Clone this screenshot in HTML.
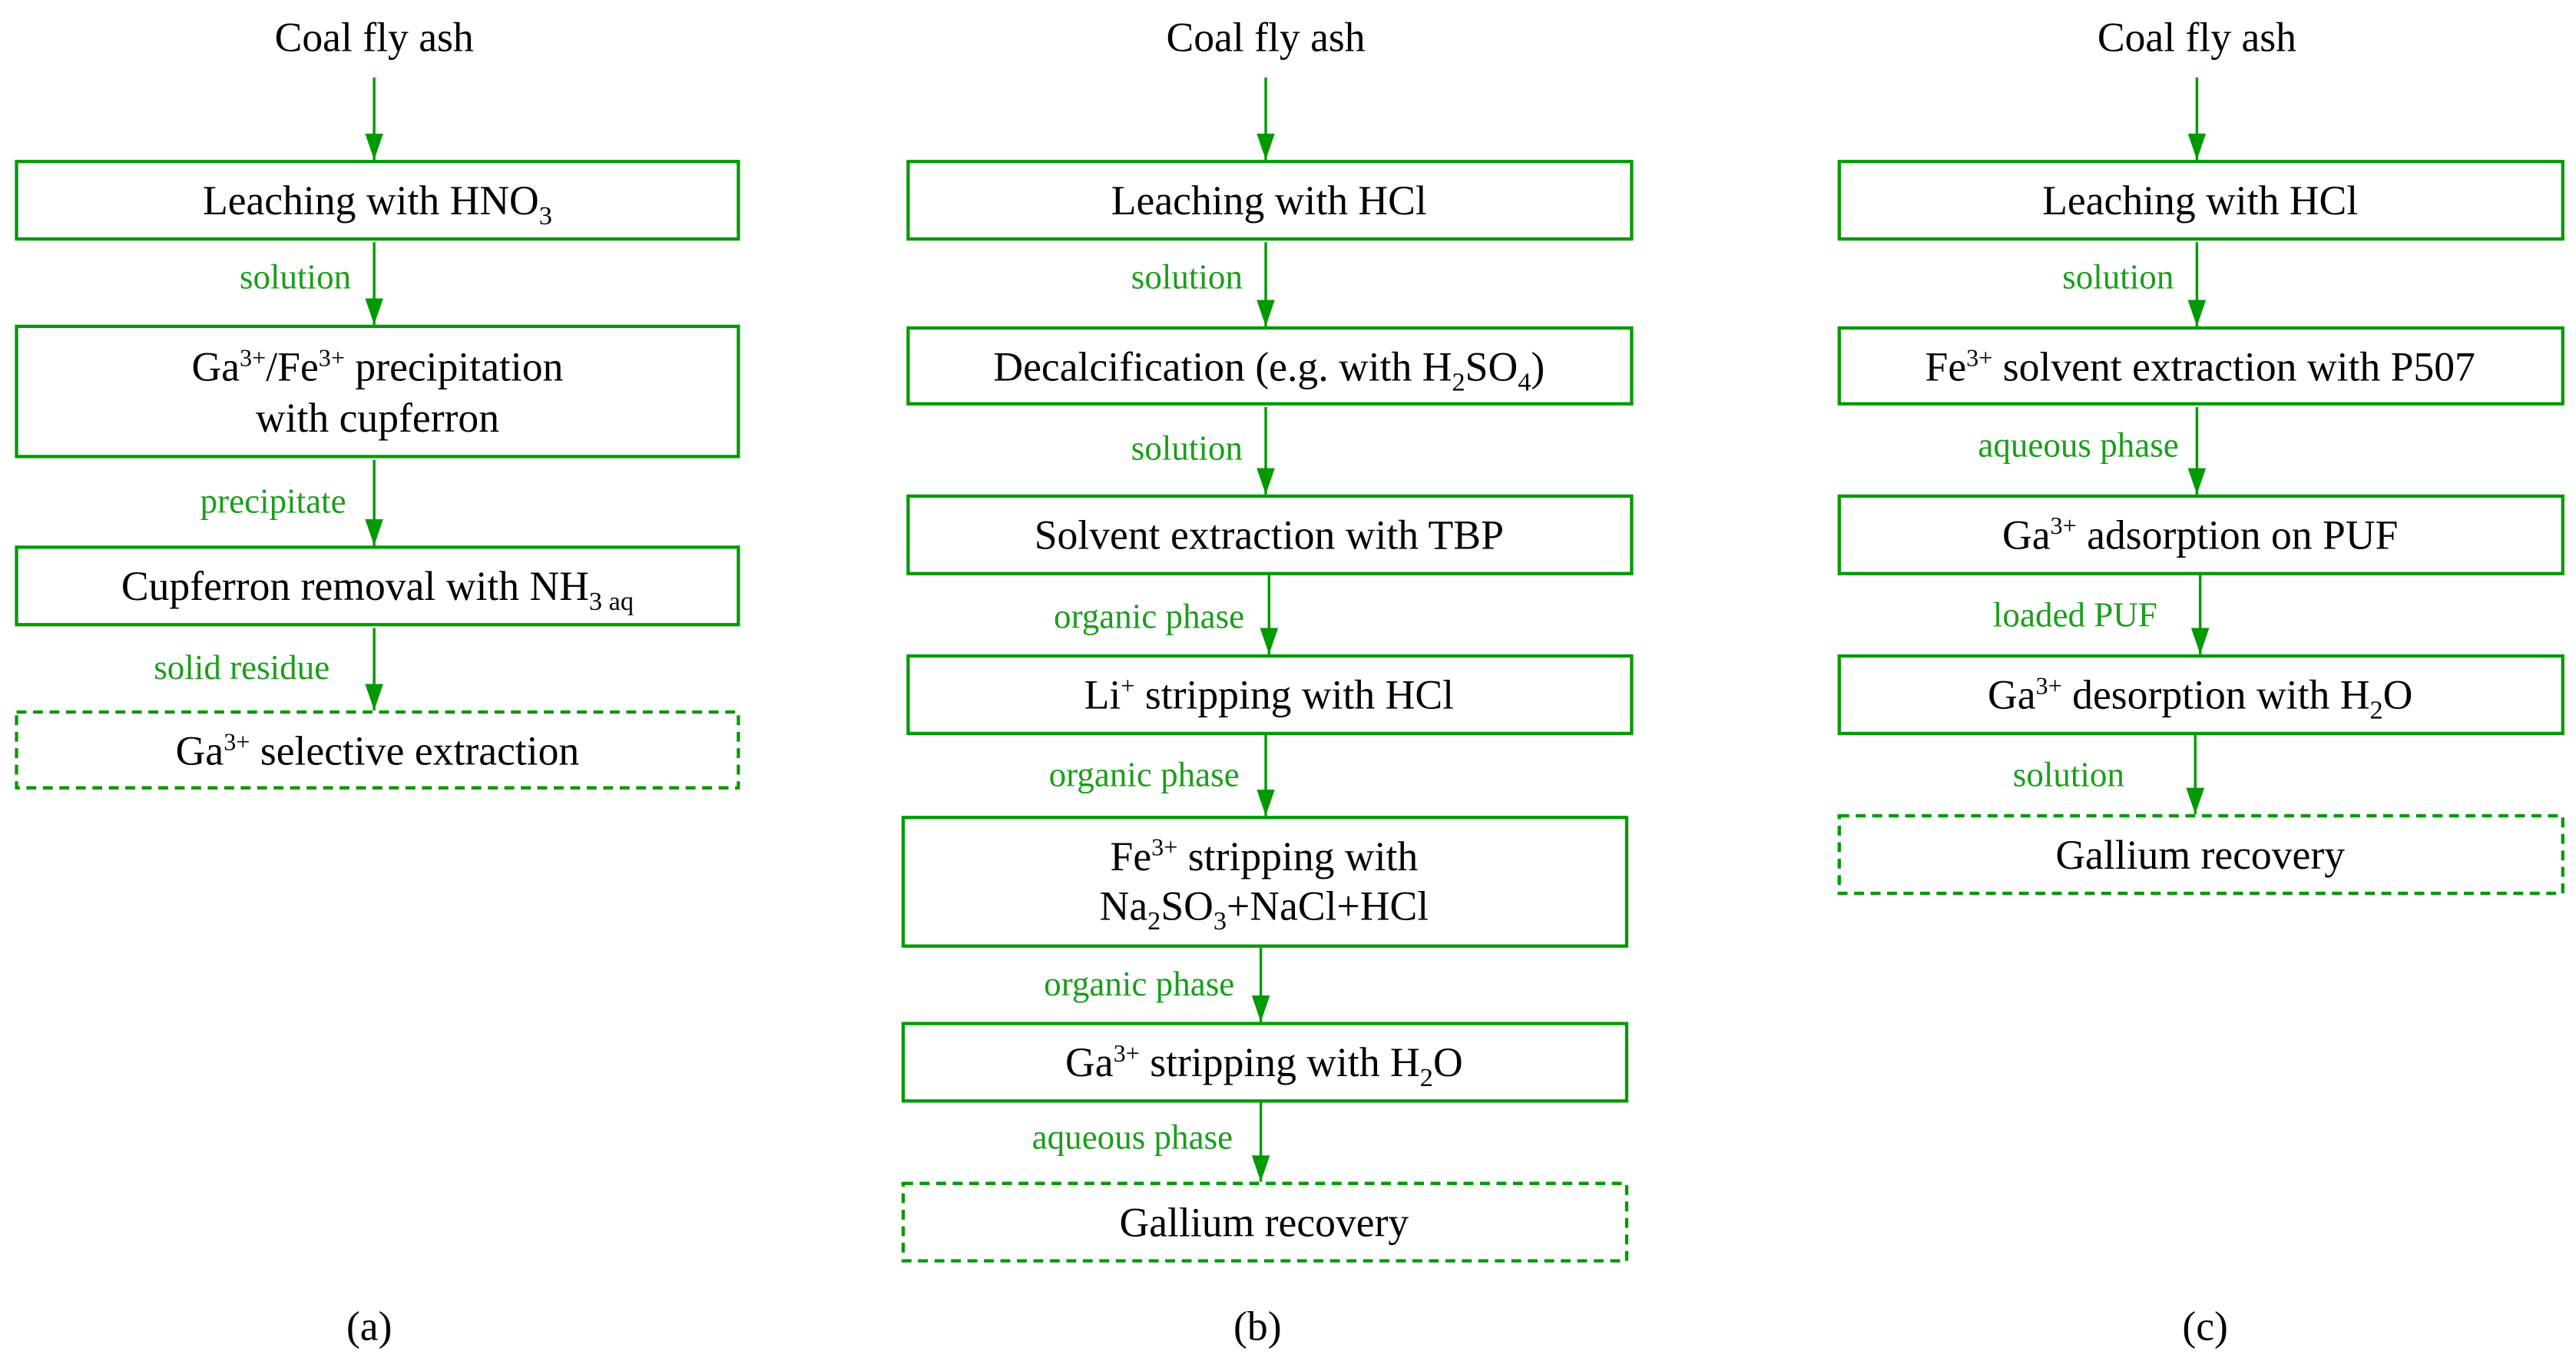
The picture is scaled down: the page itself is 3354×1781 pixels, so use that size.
<!DOCTYPE html>
<html><head><meta charset="utf-8"><style>
html,body{margin:0;padding:0;background:#fff;}
svg{display:block;}
text{font-family:"Liberation Serif",serif;}
.t{font-size:25px;fill:#000;text-anchor:middle;}
.l{font-size:21px;fill:#1a9e1a;text-anchor:end;}
.b{fill:none;stroke:#009a00;stroke-width:2;}
.d{fill:none;stroke:#009a00;stroke-width:2;stroke-dasharray:6,4;}
.a{stroke:#009a00;stroke-width:1.6;}
</style></head><body>
<svg width="3354" height="1781" viewBox="0 0 1563 830" xmlns="http://www.w3.org/2000/svg">
<defs>
<marker id="n" markerWidth="16" markerHeight="11" refX="16" refY="5.5" orient="auto" markerUnits="userSpaceOnUse"><path d="M0,0 L16,5.5 L0,11 Z" fill="#009a00"/></marker></defs>

<!-- column a -->
<text class="t" x="227" y="31">Coal fly ash</text>
<line class="a" x1="227" y1="47" x2="227" y2="97" marker-end="url(#n)"/>
<rect class="b" x="10" y="98" width="438" height="47"/>
<text class="t" x="229" y="130">Leaching with HNO<tspan font-size="16" dy="6">3</tspan></text>
<text class="l" x="213" y="175">solution</text>
<line class="a" x1="227" y1="147" x2="227" y2="197" marker-end="url(#n)"/>
<rect class="b" x="10" y="198" width="438" height="79"/>
<text class="t" x="229" y="231">Ga<tspan font-size="15" dy="-9">3+</tspan><tspan dy="9">/Fe</tspan><tspan font-size="15" dy="-9">3+</tspan><tspan dy="9"> precipitation</tspan></text>
<text class="t" x="229" y="262">with cupferron</text>
<text class="l" x="210" y="311">precipitate</text>
<line class="a" x1="227" y1="279" x2="227" y2="331" marker-end="url(#n)"/>
<rect class="b" x="10" y="332" width="438" height="47"/>
<text class="t" x="229" y="364">Cupferron removal with NH<tspan font-size="16" dy="6">3 aq</tspan></text>
<text class="l" x="200" y="412">solid residue</text>
<line class="a" x1="227" y1="381" x2="227" y2="431" marker-end="url(#n)"/>
<rect class="d" x="10" y="432" width="438" height="46"/>
<text class="t" x="229" y="464">Ga<tspan font-size="15" dy="-9">3+</tspan><tspan dy="9"> selective extraction</tspan></text>
<text class="t" x="224" y="813">(a)</text>

<!-- column b -->
<text class="t" x="768" y="31">Coal fly ash</text>
<line class="a" x1="768" y1="47" x2="768" y2="97" marker-end="url(#n)"/>
<rect class="b" x="551" y="98" width="439" height="47"/>
<text class="t" x="770" y="130">Leaching with HCl</text>
<text class="l" x="754" y="175">solution</text>
<line class="a" x1="768" y1="147" x2="768" y2="198" marker-end="url(#n)"/>
<rect class="b" x="551" y="199" width="439" height="46"/>
<text class="t" x="770" y="231">Decalcification (e.g. with H<tspan font-size="16" dy="6">2</tspan><tspan dy="-6">SO</tspan><tspan font-size="16" dy="6">4</tspan><tspan dy="-6">)</tspan></text>
<text class="l" x="754" y="279">solution</text>
<line class="a" x1="768" y1="247" x2="768" y2="300" marker-end="url(#n)"/>
<rect class="b" x="551" y="301" width="439" height="47"/>
<text class="t" x="770" y="333">Solvent extraction with TBP</text>
<text class="l" x="755" y="381">organic phase</text>
<line class="a" x1="770" y1="349" x2="770" y2="397" marker-end="url(#n)"/>
<rect class="b" x="551" y="398" width="439" height="47"/>
<text class="t" x="770" y="430">Li<tspan font-size="15" dy="-9">+</tspan><tspan dy="9"> stripping with HCl</tspan></text>
<text class="l" x="752" y="477">organic phase</text>
<line class="a" x1="768" y1="446" x2="768" y2="495" marker-end="url(#n)"/>
<rect class="b" x="548" y="496" width="439" height="78"/>
<text class="t" x="767" y="528">Fe<tspan font-size="15" dy="-9">3+</tspan><tspan dy="9"> stripping with</tspan></text>
<text class="t" x="767" y="558">Na<tspan font-size="16" dy="6">2</tspan><tspan dy="-6">SO</tspan><tspan font-size="16" dy="6">3</tspan><tspan dy="-6">+NaCl+HCl</tspan></text>
<text class="l" x="749" y="604">organic phase</text>
<line class="a" x1="765" y1="575" x2="765" y2="620" marker-end="url(#n)"/>
<rect class="b" x="548" y="621" width="439" height="47"/>
<text class="t" x="767" y="653">Ga<tspan font-size="15" dy="-9">3+</tspan><tspan dy="9"> stripping with H</tspan><tspan font-size="16" dy="6">2</tspan><tspan dy="-6">O</tspan></text>
<text class="l" x="748" y="697">aqueous phase</text>
<line class="a" x1="765" y1="669" x2="765" y2="717" marker-end="url(#n)"/>
<rect class="d" x="548" y="718" width="439" height="47"/>
<text class="t" x="767" y="750">Gallium recovery</text>
<text class="t" x="763" y="813">(b)</text>

<!-- column c -->
<text class="t" x="1333" y="31">Coal fly ash</text>
<line class="a" x1="1333" y1="47" x2="1333" y2="97" marker-end="url(#n)"/>
<rect class="b" x="1116" y="98" width="439" height="47"/>
<text class="t" x="1335" y="130">Leaching with HCl</text>
<text class="l" x="1319" y="175">solution</text>
<line class="a" x1="1333" y1="147" x2="1333" y2="198" marker-end="url(#n)"/>
<rect class="b" x="1116" y="199" width="439" height="46"/>
<text class="t" x="1335" y="231">Fe<tspan font-size="15" dy="-9">3+</tspan><tspan dy="9"> solvent extraction with P507</tspan></text>
<text class="l" x="1322" y="277">aqueous phase</text>
<line class="a" x1="1333" y1="247" x2="1333" y2="300" marker-end="url(#n)"/>
<rect class="b" x="1116" y="301" width="439" height="47"/>
<text class="t" x="1335" y="333">Ga<tspan font-size="15" dy="-9">3+</tspan><tspan dy="9"> adsorption on PUF</tspan></text>
<text class="l" x="1309" y="380">loaded PUF</text>
<line class="a" x1="1335" y1="349" x2="1335" y2="397" marker-end="url(#n)"/>
<rect class="b" x="1116" y="398" width="439" height="47"/>
<text class="t" x="1335" y="430">Ga<tspan font-size="15" dy="-9">3+</tspan><tspan dy="9"> desorption with H</tspan><tspan font-size="16" dy="6">2</tspan><tspan dy="-6">O</tspan></text>
<text class="l" x="1289" y="477">solution</text>
<line class="a" x1="1332" y1="446" x2="1332" y2="494" marker-end="url(#n)"/>
<rect class="d" x="1116" y="495" width="439" height="47"/>
<text class="t" x="1335" y="527">Gallium recovery</text>
<text class="t" x="1338" y="813">(c)</text>
</svg>
</body></html>
